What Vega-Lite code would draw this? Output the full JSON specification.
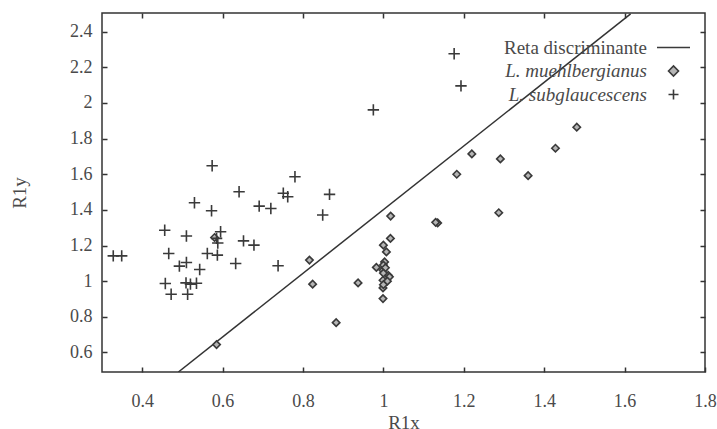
{
  "$schema": "https://vega.github.io/schema/vega-lite/v6.json",
  "width": 603,
  "height": 359,
  "autosize": {"type": "none"},
  "padding": {"left": 102, "top": 13, "right": 12, "bottom": 57},
  "background": "#ffffff",
  "config": {
    "font": "Liberation Serif",
    "view": {"stroke": "#333333", "strokeWidth": 1.5},
    "axis": {
      "grid": false,
      "domain": false,
      "tickColor": "#333333",
      "tickWidth": 1.5,
      "tickSize": -5,
      "labelFont": "Liberation Serif",
      "labelFontSize": 18,
      "labelColor": "#4a4a4a",
      "titleFont": "Liberation Serif",
      "titleFontSize": 19,
      "titleFontWeight": "normal",
      "titleColor": "#4a4a4a"
    },
    "legend": {
      "labelFont": "Liberation Serif",
      "labelFontSize": 19,
      "labelColor": "#4a4a4a",
      "labelFontStyle": {"expr": "datum.value === 'Reta discriminante' ? 'normal' : 'italic'"}
    }
  },
  "datasets": {
    "reta": [
      {"x": 0.49, "y": 0.49, "serie": "Reta discriminante"},
      {"x": 1.615, "y": 2.5, "serie": "Reta discriminante"}
    ],
    "muehl": [
      {"x": 1.018, "y": 1.365}, {"x": 1.135, "y": 1.327}, {"x": 1.13, "y": 1.33},
      {"x": 1.0175, "y": 1.24}, {"x": 1.0, "y": 1.202}, {"x": 1.0075, "y": 1.164},
      {"x": 1.003, "y": 1.108}, {"x": 0.9825, "y": 1.077}, {"x": 0.999, "y": 1.061},
      {"x": 1.012, "y": 1.033}, {"x": 0.999, "y": 1.005}, {"x": 0.999, "y": 0.962},
      {"x": 0.937, "y": 0.99}, {"x": 0.999, "y": 0.902}, {"x": 1.015, "y": 1.024},
      {"x": 1.0, "y": 1.09}, {"x": 1.005, "y": 1.075}, {"x": 1.0, "y": 1.045},
      {"x": 1.01, "y": 1.0}, {"x": 1.0, "y": 0.98}, {"x": 1.481, "y": 1.864},
      {"x": 1.428, "y": 1.746}, {"x": 1.22, "y": 1.714}, {"x": 1.291, "y": 1.686},
      {"x": 1.1825, "y": 1.6}, {"x": 1.36, "y": 1.592}, {"x": 1.287, "y": 1.384},
      {"x": 0.816, "y": 1.118}, {"x": 0.824, "y": 0.983}, {"x": 0.585, "y": 0.644},
      {"x": 0.8825, "y": 0.767}, {"x": 0.58, "y": 1.245}
    ],
    "subgl": [
      {"x": 0.574, "y": 1.648}, {"x": 0.53, "y": 1.44}, {"x": 0.5725, "y": 1.395},
      {"x": 0.456, "y": 1.286}, {"x": 0.51, "y": 1.253}, {"x": 0.595, "y": 1.277},
      {"x": 0.585, "y": 1.24}, {"x": 0.588, "y": 1.214}, {"x": 0.328, "y": 1.142},
      {"x": 0.349, "y": 1.142}, {"x": 0.466, "y": 1.155}, {"x": 0.562, "y": 1.155},
      {"x": 0.587, "y": 1.146}, {"x": 0.51, "y": 1.105}, {"x": 0.4925, "y": 1.084},
      {"x": 0.543, "y": 1.065}, {"x": 0.4575, "y": 0.987}, {"x": 0.509, "y": 0.99},
      {"x": 0.52, "y": 0.983}, {"x": 0.535, "y": 0.988}, {"x": 0.472, "y": 0.926},
      {"x": 0.513, "y": 0.926}, {"x": 0.78, "y": 1.586}, {"x": 0.641, "y": 1.502},
      {"x": 0.751, "y": 1.493}, {"x": 0.762, "y": 1.474}, {"x": 0.866, "y": 1.487},
      {"x": 0.691, "y": 1.421}, {"x": 0.72, "y": 1.408}, {"x": 0.849, "y": 1.371},
      {"x": 0.652, "y": 1.226}, {"x": 0.678, "y": 1.202}, {"x": 0.6325, "y": 1.099},
      {"x": 0.738, "y": 1.086}, {"x": 1.176, "y": 2.276}, {"x": 1.193, "y": 2.096},
      {"x": 0.975, "y": 1.961}
    ]
  },
  "resolve": {"axis": {"x": "independent", "y": "independent"}},
  "layer": [
    {
      "data": {"name": "reta"},
      "mark": {"type": "line", "stroke": "#333333", "strokeWidth": 1.5, "clip": true},
      "encoding": {
        "x": {
          "field": "x", "type": "quantitative",
          "scale": {"domain": [0.3, 1.8], "nice": false, "zero": false},
          "axis": {"orient": "bottom", "title": "R1x", "format": "~g", "values": [0.4, 0.6, 0.8, 1.0, 1.2, 1.4, 1.6, 1.8], "labelPadding": 25, "titlePadding": 3, "labelFlush": false}
        },
        "y": {
          "field": "y", "type": "quantitative",
          "scale": {"domain": [0.49, 2.505], "nice": false, "zero": false},
          "axis": {"orient": "left", "title": "R1y", "format": "~g", "values": [0.6, 0.8, 1.0, 1.2, 1.4, 1.6, 1.8, 2.0, 2.2, 2.4], "labelPadding": 15, "titlePadding": 40, "labelFlush": false}
        }
      }
    },
    {
      "data": {
        "values": [
          {"x": 0.58, "y": 1.245, "serie": "L. muehlbergianus"}
        ]
      },
      "transform": [{"filter": "false"}],
      "mark": {"type": "point", "filled": true},
      "encoding": {
        "x": {"field": "x", "type": "quantitative", "axis": {"orient": "top", "labels": false, "title": null, "values": [0.4, 0.6, 0.8, 1.0, 1.2, 1.4, 1.6]}},
        "y": {"field": "y", "type": "quantitative", "axis": {"orient": "right", "labels": false, "title": null, "values": [0.6, 0.8, 1.0, 1.2, 1.4, 1.6, 1.8, 2.0, 2.2, 2.4]}}
      }
    },
    {
      "data": {"name": "muehl"},
      "transform": [{"calculate": "'L. muehlbergianus'", "as": "serie"}],
      "mark": {"type": "point", "filled": true, "size": 55, "stroke": "#3a3a3a", "strokeWidth": 1.6, "opacity": 1},
      "encoding": {
        "x": {"field": "x", "type": "quantitative", "axis": null},
        "y": {"field": "y", "type": "quantitative", "axis": null},
        "shape": {
          "field": "serie", "type": "nominal",
          "scale": {"domain": ["Reta discriminante", "L. muehlbergianus", "L. subglaucescens"], "range": ["M-3.3,0H3.3", "diamond", "M-1,0H1M0,-1V1"]},
          "legend": {
            "title": null,
            "orient": "none",
            "legendX": 562,
            "legendY": 25,
            "labelAlign": "right",
            "labelOffset": -36,
            "labelLimit": 400,
            "symbolSize": 100,
            "symbolStrokeWidth": 1.6,
            "rowPadding": 3.5
          }
        },
        "fill": {
          "field": "serie", "type": "nominal",
          "scale": {"domain": ["Reta discriminante", "L. muehlbergianus", "L. subglaucescens"], "range": ["transparent", "#b5b5b5", "transparent"]},
          "legend": null
        }
      }
    },
    {
      "data": {"name": "subgl"},
      "transform": [{"calculate": "'L. subglaucescens'", "as": "serie"}],
      "mark": {"type": "point", "filled": true, "size": 130, "stroke": "#3a3a3a", "strokeWidth": 1.6, "opacity": 1},
      "encoding": {
        "x": {"field": "x", "type": "quantitative", "axis": null},
        "y": {"field": "y", "type": "quantitative", "axis": null},
        "shape": {"field": "serie", "type": "nominal"},
        "fill": {"field": "serie", "type": "nominal", "legend": null}
      }
    }
  ]
}
